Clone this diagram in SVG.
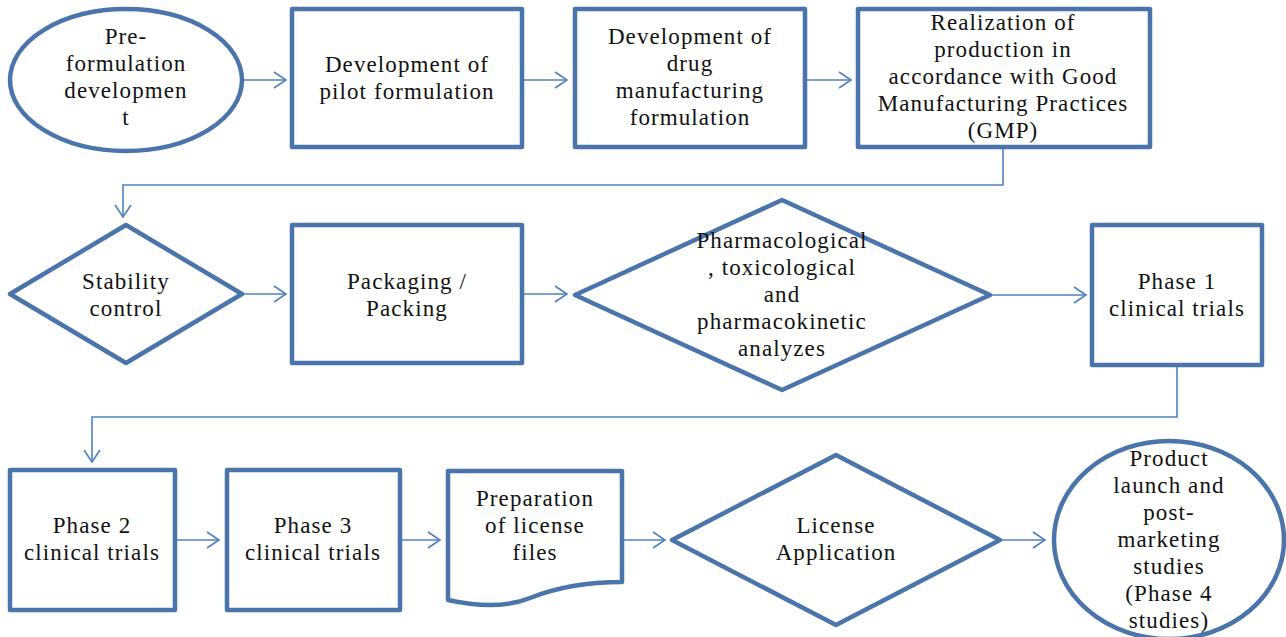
<svg xmlns="http://www.w3.org/2000/svg" width="1286" height="637" viewBox="0 0 1286 637">
<defs>
<marker id="arr" markerUnits="userSpaceOnUse" markerWidth="20" markerHeight="20" viewBox="-12 -10 14 20" refX="0" refY="0" orient="auto">
<path d="M-12,-8 L0,0 L-12,8" fill="none" stroke="#4F81BD" stroke-width="1.6"/>
</marker>
</defs>
<style>
.n{fill:#fff;stroke:#4A74AA;stroke-width:4.5;stroke-linejoin:round}
.c{fill:none;stroke:#4F81BD;stroke-width:1.6;marker-end:url(#arr)}
text{font-family:"Liberation Serif","Times New Roman",serif;font-size:23px;letter-spacing:1.1px;fill:#111;text-anchor:middle}
</style>
<rect width="1286" height="637" fill="#fff"/>
<g id="connectors">
<path class="c" d="M242,80 H286"/>
<path class="c" d="M522,80 H567"/>
<path class="c" d="M805,80 H851"/>
<path class="c" d="M1003,148 V185 H123 V217"/>
<path class="c" d="M242,294 H286"/>
<path class="c" d="M522,294 H567"/>
<path class="c" d="M990,295 H1086"/>
<path class="c" d="M1177,365 V417 H92 V462"/>
<path class="c" d="M175,540 H219"/>
<path class="c" d="M400,540 H440"/>
<path class="c" d="M622,540 H665"/>
<path class="c" d="M1000,540 H1045"/>
</g>
<g id="n1"><ellipse class="n" cx="126" cy="80" rx="116" ry="71"/>
<text x="126" y="44">Pre-</text><text x="126" y="71">formulation</text><text x="126" y="98">developmen</text><text x="126" y="125">t</text></g>
<g id="n2"><rect class="n" x="292" y="9" width="230" height="138"/>
<text x="407" y="72">Development of</text><text x="407" y="99">pilot formulation</text></g>
<g id="n3"><rect class="n" x="575" y="9" width="230" height="138"/>
<text x="690" y="44">Development of</text><text x="690" y="71">drug</text><text x="690" y="98">manufacturing</text><text x="690" y="125">formulation</text></g>
<g id="n4"><rect class="n" x="858" y="9" width="292" height="138"/>
<text x="1003" y="30">Realization of</text><text x="1003" y="57">production in</text><text x="1003" y="84">accordance with Good</text><text x="1003" y="111">Manufacturing Practices</text><text x="1003" y="138">(GMP)</text></g>
<g id="n5"><path class="n" d="M126,225 L242,294 L126,363 L10,294 Z"/>
<text x="126" y="289">Stability</text><text x="126" y="316">control</text></g>
<g id="n6"><rect class="n" x="292" y="225" width="230" height="138"/>
<text x="407" y="289">Packaging /</text><text x="407" y="316">Packing</text></g>
<g id="n7"><path class="n" d="M782,200 L990,295 L782,390 L575,295 Z"/>
<text x="782" y="248">Pharmacological</text><text x="782" y="275">, toxicological</text><text x="782" y="302">and</text><text x="782" y="329">pharmacokinetic</text><text x="782" y="356">analyzes</text></g>
<g id="n8"><rect class="n" x="1092" y="225" width="170" height="140"/>
<text x="1177" y="289">Phase 1</text><text x="1177" y="316">clinical trials</text></g>
<g id="n9"><rect class="n" x="10" y="470" width="165" height="140"/>
<text x="92" y="533">Phase 2</text><text x="92" y="560">clinical trials</text></g>
<g id="n10"><rect class="n" x="227" y="470" width="173" height="140"/>
<text x="313" y="533">Phase 3</text><text x="313" y="560">clinical trials</text></g>
<g id="n11"><path class="n" d="M448,471 H622 V582 C590,582 560,586 530,598 C505,608 475,606 448,600 Z"/>
<text x="535" y="506">Preparation</text><text x="535" y="533">of license</text><text x="535" y="560">files</text></g>
<g id="n12"><path class="n" d="M836,455 L1000,540 L836,625 L672,540 Z"/>
<text x="836" y="533">License</text><text x="836" y="560">Application</text></g>
<g id="n13"><ellipse class="n" cx="1169" cy="540" rx="115" ry="99"/>
<text x="1169" y="466">Product</text><text x="1169" y="493">launch and</text><text x="1169" y="520">post-</text><text x="1169" y="547">marketing</text><text x="1169" y="574">studies</text><text x="1169" y="601">(Phase 4</text><text x="1169" y="628">studies)</text></g>
</svg>
